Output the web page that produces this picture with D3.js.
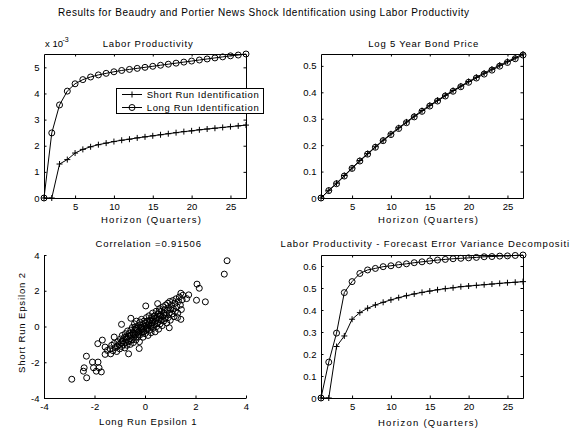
<!DOCTYPE html>
<html>
<head>
<meta charset="utf-8">
<script src="https://cdn.jsdelivr.net/npm/d3@7"></script>
<style>
  html, body { margin: 0; padding: 0; background: #fff; }
  svg { display: block; }
  text { font-family: "Liberation Sans", Arial, Helvetica, sans-serif; fill: #000; }
</style>
</head>
<body>
<svg id="fig" width="570" height="430"></svg>
<script>
// ---- data ----
const horizon = [1, 2, 3, 4, 5, 6, 7, 8, 9, 10, 11, 12, 13, 14, 15, 16, 17, 18, 19, 20, 21, 22, 23, 24, 25, 26, 27];
const horizonTicks = [5, 10, 15, 20, 25];

// impulse response of labor productivity
const lpShortRun = [0, 0, 1.30e-3, 1.47e-3, 1.72e-3, 1.86e-3, 1.96e-3, 2.04e-3, 2.10e-3, 2.16e-3, 2.21e-3, 2.25e-3, 2.30e-3, 2.34e-3,
  2.38e-3, 2.42e-3, 2.46e-3, 2.50e-3, 2.54e-3, 2.57e-3, 2.61e-3, 2.64e-3, 2.67e-3, 2.70e-3, 2.73e-3, 2.76e-3, 2.79e-3];
const lpLongRun = [0, 2.49e-3, 3.56e-3, 4.09e-3, 4.37e-3, 4.53e-3, 4.63e-3, 4.71e-3, 4.77e-3, 4.83e-3, 4.88e-3, 4.92e-3, 4.96e-3, 5.00e-3,
  5.04e-3, 5.08e-3, 5.12e-3, 5.16e-3, 5.20e-3, 5.24e-3, 5.28e-3, 5.32e-3, 5.36e-3, 5.40e-3, 5.44e-3, 5.47e-3, 5.51e-3];
const lpTicks = [0, 1e-3, 2e-3, 3e-3, 4e-3, 5e-3];

// impulse response of the log 5 year bond price
const bondShortRun = [0, 0.029, 0.056, 0.085, 0.114, 0.142, 0.168, 0.194, 0.219, 0.243, 0.266, 0.288, 0.310, 0.331,
  0.351, 0.370, 0.389, 0.407, 0.424, 0.441, 0.457, 0.473, 0.488, 0.503, 0.517, 0.531, 0.545];
const bondLongRun = [0, 0.028, 0.054, 0.083, 0.112, 0.140, 0.166, 0.192, 0.217, 0.240, 0.263, 0.285, 0.307, 0.328,
  0.348, 0.367, 0.386, 0.404, 0.421, 0.438, 0.454, 0.469, 0.484, 0.499, 0.513, 0.527, 0.541];
const bondTicks = [0, 0.1, 0.2, 0.3, 0.4, 0.5];

// forecast error variance share of labor productivity
const fevdShortRun = [0, 0, 0.234, 0.282, 0.358, 0.388, 0.408, 0.423, 0.435, 0.446, 0.456, 0.465, 0.473, 0.480,
  0.486, 0.492, 0.497, 0.501, 0.506, 0.509, 0.512, 0.515, 0.518, 0.521, 0.524, 0.526, 0.529];
const fevdLongRun = [0, 0.163, 0.295, 0.479, 0.529, 0.566, 0.582, 0.589, 0.597, 0.601, 0.606, 0.610, 0.615, 0.619,
  0.623, 0.627, 0.630, 0.633, 0.635, 0.637, 0.639, 0.642, 0.643, 0.645, 0.646, 0.648, 0.650];
const fevdTicks = [0, 0.1, 0.2, 0.3, 0.4, 0.5, 0.6];

// identified shocks: long run epsilon 1 (x) against short run epsilon 2 (y)
const epsLongRun = [
  3.25, 3.14, 2.06, 2.15, 2.04, 2.39, 1.42, 1.73, 1.65, -2.90, -2.31, -2.32, -2.44, -2.41, -2.08, -2.04, -1.86, -1.82, -1.93, -1.73,
  -1.87, -1.69, -1.58, -1.58, -1.49, -1.36, -1.22, -1.09, -0.93, -0.65, -0.23, 0.03, 0.50, 0.96, -0.56, 0.56, 1.29, 1.42,
  -1.38, -1.32, -1.27, -1.22, -1.18, -1.12, -1.08, -1.03, -1.00,
  -0.97, -0.95, -0.92, -0.90, -0.87, -0.85, -0.82, -0.80, -0.78, -0.76, -0.73, -0.71, -0.69, -0.67, -0.64, -0.62, -0.60,
  -0.58, -0.56, -0.54, -0.52, -0.50, -0.48, -0.46, -0.44, -0.42, -0.40, -0.38, -0.36, -0.34, -0.32, -0.30, -0.28, -0.26, -0.24, -0.22, -0.20,
  -0.18, -0.16, -0.14, -0.12, -0.10, -0.08, -0.06, -0.04, -0.02, 0.00, 0.02, 0.04, 0.06, 0.08, 0.10, 0.12, 0.14, 0.16, 0.18, 0.20,
  0.22, 0.24, 0.26, 0.28, 0.30, 0.32, 0.34, 0.36, 0.38, 0.40, 0.42, 0.44, 0.46, 0.48, 0.50, 0.52, 0.54, 0.56, 0.58, 0.60,
  0.62, 0.64, 0.66, 0.68, 0.70, 0.72, 0.74, 0.76, 0.78, 0.80, 0.82, 0.84, 0.86, 0.88, 0.90, 0.92, 0.94, 0.96, 0.98, 1.00,
  1.02, 1.05, 1.07, 1.10, 1.12, 1.15, 1.18, 1.20, 1.23, 1.26, 1.30, 1.33, 1.36, 1.40, 1.44, 1.47, 1.50,
  -0.30, -0.15, 0.05, 0.15, -0.45, 0.30, -0.60, 0.45, -0.75, 0.60, -0.90, 0.75, 0.25, -0.05, 0.35, -0.25, 0.10, -0.40
];
const epsShortRun = [
  3.68, 2.93, 2.37, 2.14, 1.47, 1.38, 1.86, 1.77, 1.56, -2.95, -2.87, -1.66, -2.50, -2.31, -1.99, -2.31, -1.99, -2.31, -2.50, -2.54,
  -0.96, -0.76, -1.15, -1.56, -1.34, -1.53, -0.59, -1.10, 0.12, -1.53, -1.23, 1.15, 1.28, -0.07, 0.46, 0.87, 0.50, 0.40,
  -1.25, -1.05, -1.35, -0.95, -1.18, -1.40, -0.85, -1.02, -1.25,
  -0.70, -0.92, -1.12, -0.50, -0.82, -1.00, -0.62, -1.20, -0.40, -0.88, -0.70, -1.05, -0.25, -0.55, -0.85, -0.38, -0.68,
  -1.00, -0.20, -0.50, -0.75, -0.05, -0.35, -0.90, -0.60, 0.15, -0.20, -0.45, -0.75, 0.30, -0.10, -0.35, -0.60, 0.05, -0.25, -0.85, 0.25,
  -0.45, -0.05, 0.40, -0.30, 0.10, -0.60, -0.15, 0.30, 0.00, -0.40, 0.20, -0.20, 0.50, -0.05, 0.30, -0.50, 0.10, 0.60, -0.20, 0.35,
  0.05, -0.35, 0.50, 0.20, 0.75, -0.10, 0.40, 0.10, 0.60, -0.30, 0.30, 0.85, 0.00, 0.50, 0.20, 0.70, -0.15, 0.40, 1.00, 0.15,
  0.60, 0.35, 0.85, 0.05, 0.55, 1.10, 0.30, 0.75, 0.95, 0.45, 1.20, 0.65, 0.20, 0.90, 1.30, 0.50, 1.05, 0.75, 1.40, 0.35,
  0.95, 1.20, 0.70, 1.45, 1.00, 0.55, 1.30, 0.85, 1.55, 1.10, 0.75, 1.40, 1.65, 1.20, 0.95, 1.50, 1.75,
  -0.20, -0.10, 0.05, 0.20, -0.40, 0.30, -0.50, 0.45, -0.60, 0.60, -0.80, 0.65, 0.00, -0.30, 0.55, -0.45, -0.15, -0.05
];
const epsTicks = [-4, -2, 0, 2, 4];

// ---- drawing ----
const svg = d3.select("#fig");
svg.append("rect").attr("width", 570).attr("height", 430).attr("fill", "#fff");

const TICK = 2.5;
const hyphen = d => String(d);
const oneDec = d => (d === 0 ? "0" : d3.format(".1f")(d));

function text(str, x, y, opt = {}) {
  const t = svg.append("text")
    .attr("x", x).attr("y", y)
    .attr("text-anchor", opt.anchor || "start")
    .style("font-size", (opt.size || 9.5) + "px")
    .text(str);
  if (opt.len) t.attr("textLength", opt.len).attr("lengthAdjust", "spacing");
  if (opt.rotate) t.attr("transform", `rotate(${opt.rotate},${x},${y})`);
  return t;
}

function panel(o) {
  const x = d3.scaleLinear().domain(o.xDomain).range([o.left, o.right]);
  const y = d3.scaleLinear().domain(o.yDomain).range([o.bottom, o.top]);
  const g = svg.append("g");
  const addAxis = (axis, tx, ty, labels) => {
    const a = g.append("g").attr("transform", `translate(${tx},${ty})`).call(axis);
    a.attr("font-family", null).attr("font-size", null);
    a.select("path.domain").attr("stroke", "#000").attr("stroke-width", 1);
    a.selectAll(".tick line").attr("stroke", "#000").attr("stroke-width", 1);
    a.selectAll(".tick text").style("font-size", "9.5px");
    if (!labels) a.selectAll(".tick text").remove();
  };
  addAxis(d3.axisBottom(x).tickValues(o.xTicks).tickSizeInner(-TICK).tickSizeOuter(0)
    .tickPadding(5).tickFormat(o.xFmt || hyphen), 0, o.bottom, true);
  addAxis(d3.axisLeft(y).tickValues(o.yTicks).tickSizeInner(-TICK).tickSizeOuter(0)
    .tickPadding(4.5).tickFormat(o.yFmt || hyphen), o.left, 0, true);
  if (o.box) {
    addAxis(d3.axisTop(x).tickValues(o.xTicks).tickSizeInner(-TICK).tickSizeOuter(0), 0, o.top, false);
    addAxis(d3.axisRight(y).tickValues(o.yTicks).tickSizeInner(-TICK).tickSizeOuter(0), o.right, 0, false);
  }
  return { x, y, g };
}

function drawLine(p, xs, ys, marker) {
  const line = d3.line().x((d, i) => p.x(xs[i])).y(d => p.y(d));
  p.g.append("path").datum(ys).attr("d", line)
    .attr("fill", "none").attr("stroke", "#000").attr("stroke-width", 1);
  drawMarkers(p.g, ys.map((v, i) => [p.x(xs[i]), p.y(v)]), marker);
}

function drawMarkers(g, pts, marker) {
  if (marker === "o") {
    g.append("g").selectAll("circle").data(pts).join("circle")
      .attr("cx", d => d[0]).attr("cy", d => d[1]).attr("r", 3)
      .attr("fill", "none").attr("stroke", "#000").attr("stroke-width", 1);
  } else {
    g.append("g").selectAll("path").data(pts).join("path")
      .attr("d", d => `M${d[0] - 3},${d[1]}H${d[0] + 3}M${d[0]},${d[1] - 3}V${d[1] + 3}`)
      .attr("stroke", "#000").attr("stroke-width", 1);
  }
}

const hDomain = [horizon[0], horizon[horizon.length - 1]];

// figure title
text("Results for Beaudry and Portier News Shock Identification using Labor Productivity", 58, 16, { size: 10, len: 411 });

// labor productivity impulse responses
const p1 = panel({
  left: 44, right: 246, top: 54, bottom: 198,
  xDomain: hDomain, yDomain: [0, d3.max(lpLongRun.concat(lpShortRun))],
  xTicks: horizonTicks, yTicks: lpTicks, yFmt: d => String(Math.round(d * 1000)), box: true
});
drawLine(p1, horizon, lpShortRun, "+");
drawLine(p1, horizon, lpLongRun, "o");
text("Labor Productivity", 102.7, 46.5, { len: 90 });
text("x 10", 45, 46.5);
text("-3", 62.5, 42, { size: 7 });
text("Horizon (Quarters)", 101, 223, { len: 100 });

// legend
const leg = svg.append("g");
leg.append("rect").attr("x", 116.5).attr("y", 88.5).attr("width", 147).attr("height", 25)
  .attr("fill", "#fff").attr("stroke", "#000").attr("stroke-width", 1);
[["Short Run Identification", "+", 94.5], ["Long Run Identification", "o", 107.5]].forEach(([name, m, yy]) => {
  leg.append("path").attr("d", `M122,${yy}H142`).attr("stroke", "#000").attr("stroke-width", 1);
  drawMarkers(leg, [[132, yy]], m);
  leg.append("text").attr("x", 146.7).attr("y", yy + 3.5).style("font-size", "9.5px")
    .attr("textLength", 112).attr("lengthAdjust", "spacing").text(name);
});

// log 5 year bond price
const p2 = panel({
  left: 321, right: 523, top: 54, bottom: 198,
  xDomain: hDomain, yDomain: [0, d3.max(bondLongRun.concat(bondShortRun))],
  xTicks: horizonTicks, yTicks: bondTicks, yFmt: oneDec, box: true
});
drawLine(p2, horizon, bondShortRun, "+");
drawLine(p2, horizon, bondLongRun, "o");
text("Log 5 Year Bond Price", 368.3, 46.5, { len: 110 });
text("Horizon (Quarters)", 378, 223, { len: 100 });

// shock scatter
const p3 = panel({
  left: 44, right: 246, top: 255, bottom: 398,
  xDomain: [-4, 4], yDomain: [-4, 4],
  xTicks: epsTicks, yTicks: epsTicks, box: false
});
drawMarkers(p3.g, epsLongRun.map((v, i) => [p3.x(v), p3.y(epsShortRun[i])]), "o");
text("Correlation =0.91506", 95.5, 247, { len: 105.5 });
text("Long Run Epsilon 1", 99, 425, { len: 97.5 });
text("Short Run Epsilon 2", 24.5, 323, { anchor: "middle", len: 100, rotate: -90 });

// forecast error variance decomposition
const p4 = panel({
  left: 321, right: 523, top: 255, bottom: 398,
  xDomain: hDomain, yDomain: [0, d3.max(fevdLongRun.concat(fevdShortRun))],
  xTicks: horizonTicks, yTicks: fevdTicks, yFmt: oneDec, box: true
});
drawLine(p4, horizon, fevdShortRun, "+");
drawLine(p4, horizon, fevdLongRun, "o");
text("Labor Productivity - Forecast Error Variance Decomposition", 280.5, 247, { len: 301 });
text("Horizon (Quarters)", 378, 426, { len: 100 });
</script>
</body>
</html>
